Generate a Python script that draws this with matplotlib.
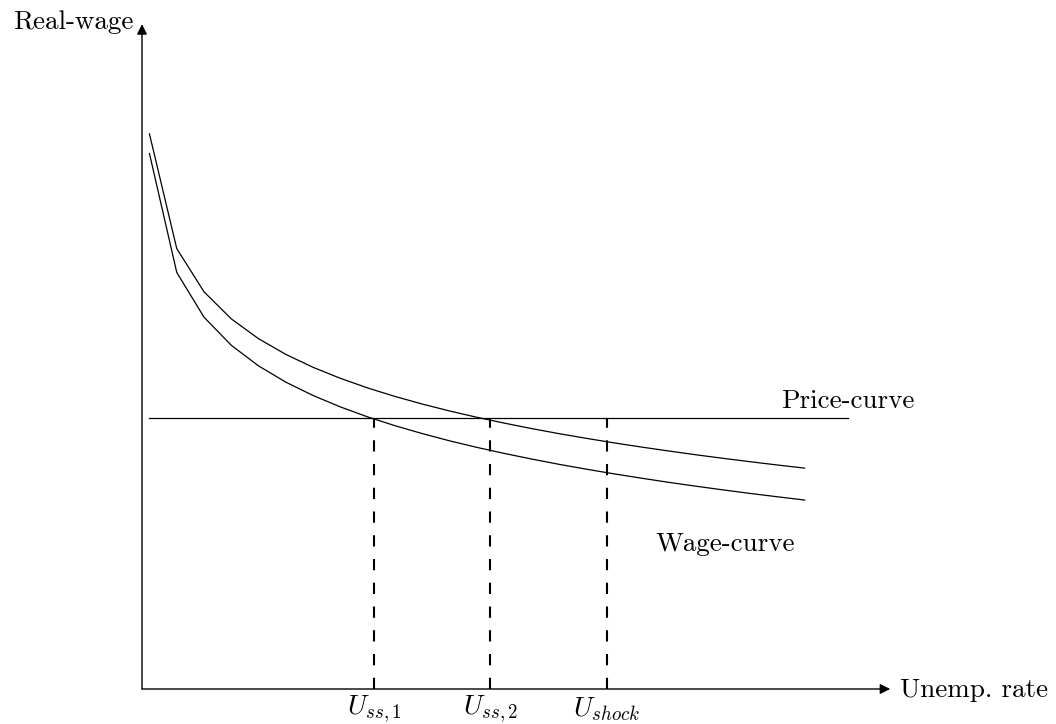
import numpy as np
import matplotlib.pyplot as plt
from matplotlib.patches import FancyArrowPatch

plt.rcParams['font.family'] = ['cmr10', 'DejaVu Serif']
plt.rcParams['mathtext.fontset'] = 'cm'
plt.rcParams['axes.unicode_minus'] = False

unemp = [0.100, 0.467, 0.833, 1.200, 1.567, 1.933, 2.300, 2.667, 3.033,
         3.400, 3.767, 4.133, 4.500, 4.867, 5.233, 5.600, 5.967, 6.333,
         6.700, 7.067, 7.433, 7.800, 8.167, 8.533, 8.900]
wageHigh = [7.456, 5.915, 5.335, 4.971, 4.704, 4.494, 4.320, 4.172, 4.043,
            3.929, 3.827, 3.734, 3.649, 3.571, 3.498, 3.430, 3.367, 3.307,
            3.251, 3.198, 3.147, 3.099, 3.053, 3.009, 2.967]
wageLow = [7.193, 5.595, 4.994, 4.616, 4.339, 4.121, 3.941, 3.788, 3.654,
           3.536, 3.430, 3.333, 3.245, 3.164, 3.089, 3.018, 2.953, 2.891,
           2.833, 2.777, 2.725, 2.675, 2.627, 2.582, 2.538]

priceLevel = 3.64
priceStart = 0.1
priceEnd = 9.48

markers = [3.12, 4.68, 6.24]
markerLabels = [r'$U_{ss,1}$', r'$U_{ss,2}$', r'$U_{shock}$']

scale = 74.45  # pixels per unit
originX = 142
originY = 689

fig = plt.figure(figsize=(10.56, 7.24), dpi=100)
ax = fig.add_axes([0, 0, 1, 1])
ax.set_xlim(-originX / scale, (1056 - originX) / scale)
ax.set_ylim((originY - 724) / scale, originY / scale)
ax.axis('off')

# axes with arrows
for tip in [(10.05, 0), (0, 8.93)]:
    arrow = FancyArrowPatch((0, 0), tip,
                            arrowstyle='-|>,head_length=0.6,head_width=0.3',
                            mutation_scale=10, lw=1.0, color='black',
                            shrinkA=0, shrinkB=0)
    ax.add_patch(arrow)

ax.text(10.18, -0.02, 'Unemp. rate', fontsize=19.5, ha='left', va='center')
ax.text(-0.12, 8.96, 'Real-wage', fontsize=19.5, ha='right', va='center')

# curves
ax.plot(unemp, wageHigh, color='black', lw=0.9)
ax.plot(unemp, wageLow, color='black', lw=0.9)
ax.plot([priceStart, priceEnd], [priceLevel, priceLevel], color='black', lw=0.9)

ax.text(priceEnd, priceLevel + 0.22, 'Price-curve', fontsize=19.5,
        ha='center', va='center')
ax.text(7.83, 1.94, 'Wage-curve', fontsize=19.5, ha='center', va='center')

# dashed markers
for pos, label in zip(markers, markerLabels):
    ax.plot([pos, pos], [0, priceLevel], color='black', lw=1.5,
            dashes=(5.4, 6.0))
    ax.text(pos, -0.27, label, fontsize=19.5, ha='center', va='center')

plt.savefig('out.png', dpi=100)
